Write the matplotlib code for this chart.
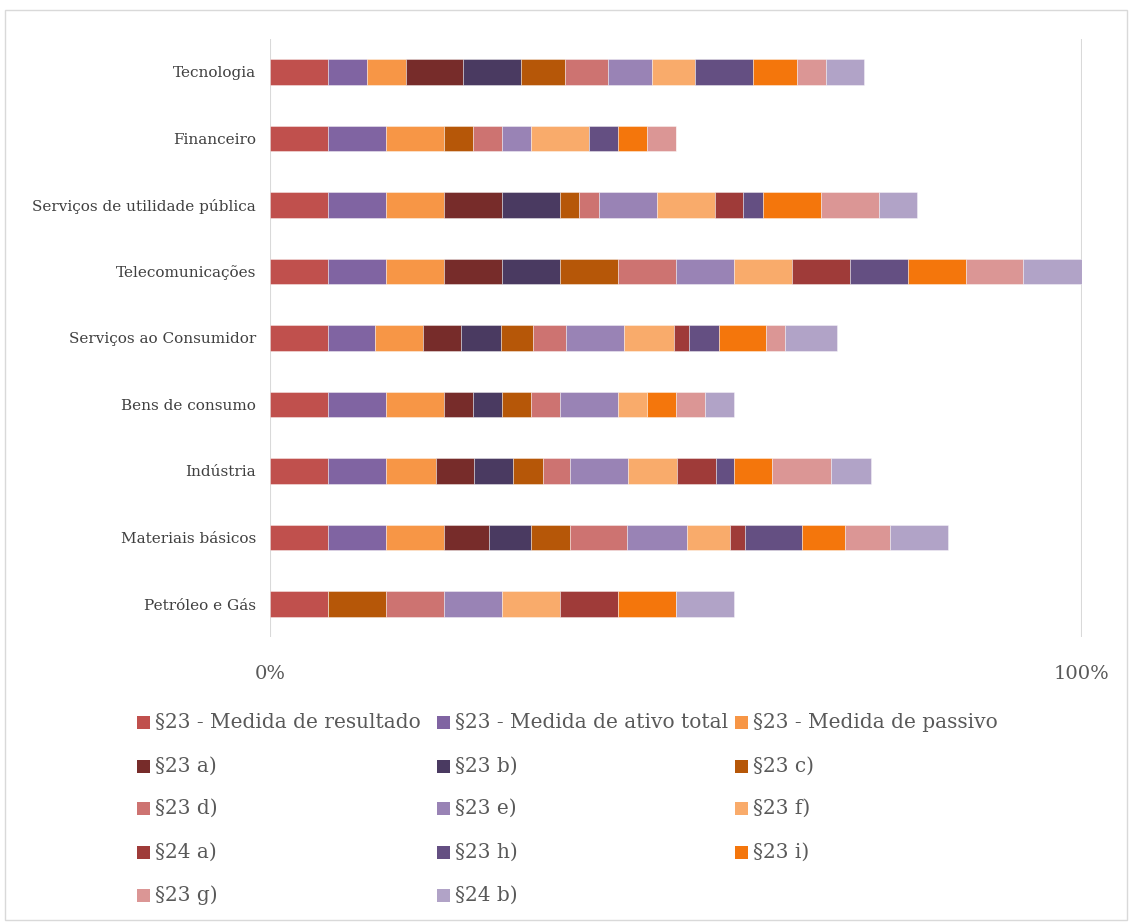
import matplotlib
matplotlib.use("Agg")
import matplotlib.pyplot as plt
from matplotlib.patches import Rectangle
import numpy as np

categories = ["Tecnologia", "Financeiro", "Serviços de utilidade pública",
              "Telecomunicações", "Serviços ao Consumidor", "Bens de consumo",
              "Indústria", "Materiais básicos", "Petróleo e Gás"]

series_names = ["§23 - Medida de resultado", "§23 - Medida de ativo total",
                "§23 - Medida de passivo", "§23 a)", "§23 b)", "§23 c)",
                "§23 d)", "§23 e)", "§23 f)", "§24 a)", "§23 h)", "§23 i)",
                "§23 g)", "§24 b)"]

colors = ["#C0504D", "#8064A2", "#F79646", "#772C2A", "#4A3A61", "#B65708",
          "#CD7371", "#9983B5", "#F9AB6B", "#9F3B39", "#644F82", "#F4760C",
          "#DB9695", "#B1A3C7"]

# values in % of axis, one list per category (order of series_names)
tecnologia   = [7.14, 4.76, 4.76, 7.14, 7.14, 5.36, 5.36, 5.36, 5.36, 0.00, 7.14, 5.36, 3.57, 4.76]
financeiro   = [7.14, 7.14, 7.14, 0.00, 0.00, 3.57, 3.57, 3.57, 7.14, 0.00, 3.57, 3.57, 3.57, 0.00]
utilidade    = [7.14, 7.14, 7.14, 7.14, 7.14, 2.38, 2.38, 7.14, 7.14, 3.57, 2.38, 7.14, 7.14, 4.76]
telecom      = [7.14, 7.14, 7.14, 7.14, 7.14, 7.14, 7.14, 7.14, 7.14, 7.14, 7.14, 7.14, 7.14, 7.16]
consumidor   = [7.14, 5.79, 5.84, 4.76, 4.93, 3.91, 4.03, 7.14, 6.25, 1.85, 3.66, 5.79, 2.38, 6.34]
bens         = [7.14, 7.14, 7.14, 3.57, 3.57, 3.57, 3.57, 7.14, 3.57, 0.00, 0.00, 3.57, 3.57, 3.57]
industria    = [7.14, 7.14, 6.08, 4.77, 4.72, 3.70, 3.41, 7.06, 6.09, 4.76, 2.30, 4.68, 7.19, 4.98]
materiais    = [7.14, 7.14, 7.14, 5.50, 5.20, 4.80, 7.04, 7.40, 5.30, 1.85, 7.04, 5.30, 5.50, 7.14]
petroleo     = [7.14, 0.00, 0.00, 0.00, 0.00, 7.14, 7.14, 7.14, 7.14, 7.14, 0.00, 7.14, 0.00, 7.14]

data = np.array([tecnologia, financeiro, utilidade, telecom, consumidor,
                 bens, industria, materiais, petroleo])

W, H = 1132, 924
fig = plt.figure(figsize=(W / 100, H / 100), dpi=100)
fig.patch.set_facecolor("white")
fig.patches.append(Rectangle((5 / W, 4 / H), 1122 / W, 910 / H, transform=fig.transFigure,
                             fill=False, edgecolor="#D9D9D9", linewidth=1.0))

x0, x1 = 270.4, 1081.7
y_top, y_bot = 38.75, 637.25
ax = fig.add_axes([x0 / W, 1 - y_bot / H, (x1 - x0) / W, (y_bot - y_top) / H])

serif = ["DejaVu Serif"]

y = np.arange(len(categories))
left = np.zeros(len(categories))
for j in range(len(series_names)):
    ax.barh(y, data[:, j], left=left, height=0.38, color=colors[j],
            edgecolor=(1, 1, 1, 0.45), linewidth=0.6, zorder=3)
    left += data[:, j]

ax.set_xlim(0, 100)
ax.set_ylim(len(categories) - 0.5, -0.5)
ax.set_yticks(y)
ax.set_yticklabels(categories, fontsize=11.0, family=serif, color="#404040")
ax.set_xticks([0, 100])
ax.set_xticklabels(["0%", "100%"], fontsize=14, family=serif, color="#595959")
ax.tick_params(axis="both", length=0)
ax.tick_params(axis="y", pad=10.5)
ax.tick_params(axis="x", pad=20)
for s in ax.spines.values():
    s.set_visible(False)
ax.grid(axis="x", color="#D9D9D9", linewidth=1.5, zorder=0)
ax.set_axisbelow(True)

# legend laid out row-major in 3 columns
col_x = [137, 437, 735]
row_y = [722, 766, 808, 852, 895]
for k, name in enumerate(series_names):
    r, c = divmod(k, 3)
    xs, ys = col_x[c], row_y[r]
    fig.patches.append(Rectangle((xs / W, 1 - (ys + 6.5) / H), 13 / W, 13 / H,
                                 transform=fig.transFigure, facecolor=colors[k],
                                 edgecolor="none"))
    fig.text((xs + 18) / W, 1 - ys / H, name, fontsize=14.5, family=serif,
             color="#595959", va="center", ha="left")

fig.savefig("out.png", dpi=100, facecolor="white")
